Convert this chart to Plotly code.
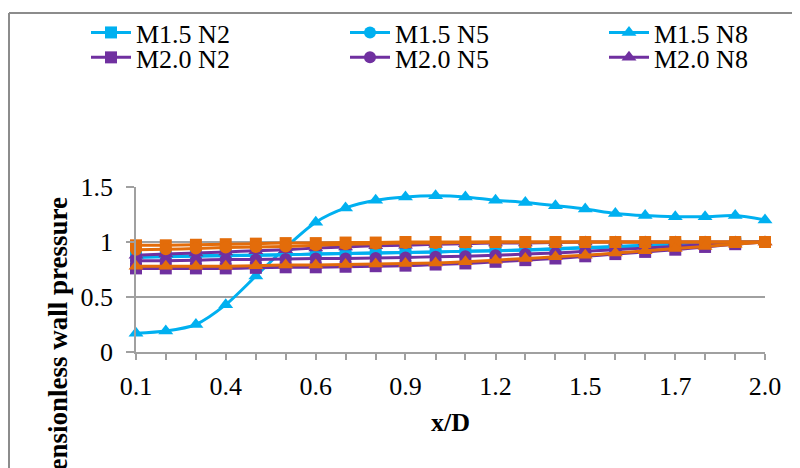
import plotly.graph_objects as go

# ---- data ----
x_vals = [0.1, 0.19, 0.281, 0.371, 0.462, 0.552, 0.643, 0.733, 0.824, 0.914, 1.005,
          1.095, 1.186, 1.276, 1.367, 1.457, 1.548, 1.638, 1.729, 1.819, 1.91, 2.0]
x_labels = ["0.1", "", "", "0.4", "", "", "0.6", "", "", "0.9", "", "", "1.2", "", "",
            "1.5", "", "", "1.7", "", "", "2.0"]

m15_n2 = [0.87, 0.87, 0.875, 0.88, 0.88, 0.885, 0.89, 0.895, 0.90, 0.905, 0.91,
          0.915, 0.92, 0.925, 0.935, 0.945, 0.955, 0.965, 0.975, 0.985, 0.995, 1.0]
m15_n5 = [0.86, 0.865, 0.87, 0.875, 0.88, 0.885, 0.89, 0.895, 0.90, 0.905, 0.91,
          0.915, 0.92, 0.93, 0.94, 0.95, 0.96, 0.97, 0.98, 0.99, 1.0, 1.0]
m15_n8 = [0.17, 0.19, 0.25, 0.43, 0.69, 0.95, 1.18, 1.31, 1.38, 1.41, 1.42,
          1.41, 1.38, 1.36, 1.33, 1.30, 1.26, 1.24, 1.23, 1.23, 1.24, 1.20]
m20_n2 = [0.76, 0.76, 0.76, 0.76, 0.765, 0.77, 0.77, 0.775, 0.78, 0.785, 0.795,
          0.805, 0.82, 0.835, 0.85, 0.87, 0.89, 0.91, 0.93, 0.955, 0.98, 1.0]
m20_n5 = [0.83, 0.83, 0.835, 0.84, 0.84, 0.845, 0.85, 0.85, 0.855, 0.86, 0.865,
          0.87, 0.88, 0.89, 0.90, 0.915, 0.93, 0.945, 0.96, 0.975, 0.99, 1.0]
m20_n8 = [0.88, 0.89, 0.90, 0.91, 0.92, 0.93, 0.945, 0.955, 0.965, 0.97, 0.98,
          0.985, 0.99, 0.99, 0.995, 1.0, 1.0, 1.0, 1.0, 1.0, 1.0, 1.0]
m25_n2 = [0.97, 0.97, 0.975, 0.98, 0.985, 0.99, 0.99, 0.995, 0.995, 1.0, 1.0,
          1.0, 1.0, 1.0, 1.0, 1.0, 1.0, 1.0, 1.0, 1.0, 1.0, 1.0]
m25_n5 = [0.93, 0.935, 0.94, 0.95, 0.955, 0.96, 0.97, 0.98, 0.985, 0.99, 0.99,
          0.995, 1.0, 1.0, 1.0, 1.0, 1.0, 1.0, 1.0, 1.0, 1.0, 1.0]
m25_n8 = [0.78, 0.78, 0.78, 0.78, 0.785, 0.79, 0.79, 0.795, 0.80, 0.805, 0.81,
          0.82, 0.835, 0.85, 0.865, 0.88, 0.90, 0.92, 0.94, 0.96, 0.98, 1.0]

CYAN = "#00B0F0"
PURPLE = "#7030A0"
ORANGE = "#E36C0A"
GRID = "#A0A0A0"
FONT = "Liberation Serif"
FS = 26

# (name, values, colour, symbol, legend id or None)
series = [
    ("M1.5 N2", m15_n2, CYAN, "square", "legend"),
    ("M1.5 N5", m15_n5, CYAN, "circle", "legend2"),
    ("M1.5 N8", m15_n8, CYAN, "triangle-up", "legend3"),
    ("M2.0 N2", m20_n2, PURPLE, "square", "legend4"),
    ("M2.0 N5", m20_n5, PURPLE, "circle", "legend5"),
    ("M2.0 N8", m20_n8, PURPLE, "triangle-up", "legend6"),
    ("M2.5 N2", m25_n2, ORANGE, "square", None),
    ("M2.5 N5", m25_n5, ORANGE, "circle", None),
    ("M2.5 N8", m25_n8, ORANGE, "triangle-up", None),
]

fig = go.Figure()
for name, ys, col, sym, leg in series:
    fig.add_trace(go.Scatter(
        x=x_vals, y=ys, name=name, mode="lines+markers",
        line=dict(color=col, width=3, shape="spline", smoothing=0.8),
        marker=dict(symbol=sym, size=13 if sym == "triangle-up" else 12, color=col),
        showlegend=leg is not None, legend=leg if leg else "legend",
        cliponaxis=False,
    ))

# layout geometry: screen pixels of the reference; page body adds an 8px offset
OFF = 8
W, H = 800, 468
PL, PR, PT, PB = 136, 765, 186.5, 352   # plot area on screen
L, T = PL - OFF, PT - OFF
R, B = W - (PR - OFF), H - (PB - OFF)
pw, ph = W - L - R, H - T - B


def px_x(p):
    return (p - OFF - L) / pw


def px_y(p):
    return (H - B - (p - OFF)) / ph


def leg(xp, yp):
    return dict(
        x=px_x(xp), y=px_y(yp), orientation="h", xanchor="left", yanchor="top",
        font=dict(size=FS), bgcolor="rgba(0,0,0,0)", itemwidth=40,
    )


col_x = [86, 345, 604]
row_y = [8, 33]

fig.update_layout(
    width=W, height=H,
    margin=dict(l=L, r=R, t=T, b=B, autoexpand=False),
    paper_bgcolor="white", plot_bgcolor="white",
    font=dict(family=FONT, size=FS, color="black"),
    legend=leg(col_x[0], row_y[0]),
    legend2=leg(col_x[1], row_y[0]),
    legend3=leg(col_x[2], row_y[0]),
    legend4=leg(col_x[0], row_y[1]),
    legend5=leg(col_x[1], row_y[1]),
    legend6=leg(col_x[2], row_y[1]),
    xaxis=dict(
        range=[0.1, 2.0], tickvals=x_vals, ticktext=x_labels,
        ticks="outside", ticklen=6, tickwidth=1.5, tickcolor=GRID,
        showline=True, linecolor=GRID, linewidth=1.5, showgrid=False, zeroline=False,
        tickfont=dict(size=FS), automargin=False, ticklabelstandoff=4,
        title=dict(text="<b>x/D</b>", font=dict(size=FS), standoff=13),
    ),
    yaxis=dict(
        range=[0, 1.5], tickvals=[0, 0.5, 1, 1.5], ticktext=["0", "0.5", "1", "1.5"],
        ticks="outside", ticklen=8, tickwidth=1.5, tickcolor=GRID,
        showline=True, linecolor=GRID, linewidth=1.5,
        showgrid=True, gridcolor=GRID, gridwidth=1.5, zeroline=False,
        tickfont=dict(size=FS), automargin=False, ticklabelstandoff=8,
    ),
    annotations=[dict(
        text="<b>Dimensionless wall pressure</b>", textangle=-90,
        xref="paper", yref="paper", x=px_x(58), y=px_y(195),
        xanchor="center", yanchor="top", showarrow=False, font=dict(size=27),
    )],
    shapes=[
        dict(type="line", xref="paper", yref="paper", x0=px_x(9), x1=px_x(9),
             y0=px_y(12), y1=px_y(520), line=dict(color="#8C8C8C", width=2)),
        dict(type="line", xref="paper", yref="paper", x0=px_x(9), x1=px_x(860),
             y0=px_y(12), y1=px_y(12), line=dict(color="#8C8C8C", width=2)),
    ],
)

fig.write_html("out.html")
